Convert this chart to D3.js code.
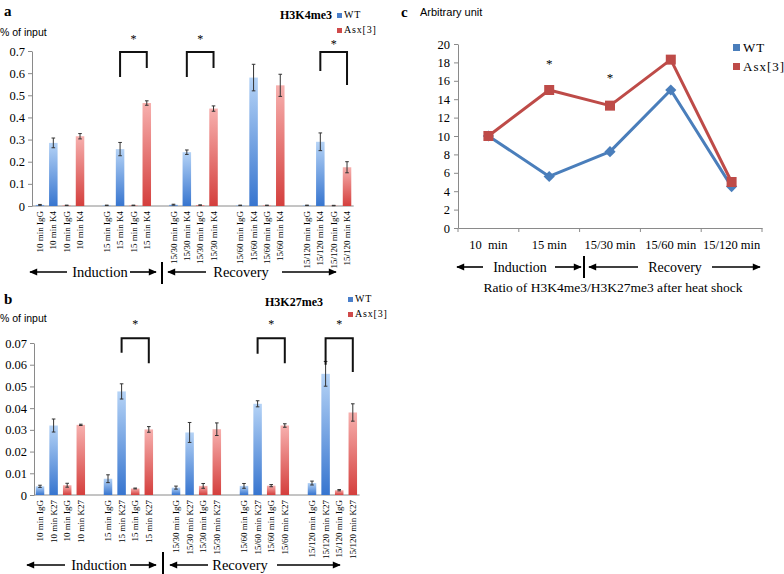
<!DOCTYPE html>
<html><head><meta charset="utf-8">
<script src="https://cdn.jsdelivr.net/npm/d3@7"></script>
<style>
body{margin:0;background:#fff}
text{font-family:"Liberation Serif","Times New Roman",serif;fill:#000}
.sans{font-family:"Liberation Sans",Arial,sans-serif}
</style></head>
<body><svg id="chart" width="784" height="574"></svg>
<script>
// ---------- shared categories ----------
const groups = ["10 min", "15 min", "15/30 min", "15/60 min", "15/120 min"];
const seriesNames = ["WT", "Asx[3]"];

// ---------- panel a : H3K4me3 (% of input) ----------
const aWtIgG      = [0.005, 0.003, 0.006, 0.003, 0.003];
const aWtIgGErr   = [0.002, 0.001, 0.002, 0.001, 0.001];
const aWtK4       = [0.285, 0.257, 0.243, 0.580, 0.290];
const aWtK4Err    = [0.022, 0.030, 0.010, 0.060, 0.040];
const aAsxIgG     = [0.003, 0.003, 0.004, 0.003, 0.002];
const aAsxIgGErr  = [0.001, 0.001, 0.001, 0.001, 0.001];
const aAsxK4      = [0.315, 0.465, 0.440, 0.545, 0.175];
const aAsxK4Err   = [0.012, 0.010, 0.012, 0.050, 0.025];
const aTicks      = [0, 0.1, 0.2, 0.3, 0.4, 0.5, 0.6, 0.7];
// significance brackets: group index, top, left leg end, right leg end, star level
const aBrackets = [
  {g: 1, top: 0.695, left: 0.583, right: 0.623, star: 0.758},
  {g: 2, top: 0.695, left: 0.583, right: 0.623, star: 0.758},
  {g: 4, top: 0.695, left: 0.610, right: 0.546, star: 0.736}
];

// ---------- panel b : H3K27me3 (% of input) ----------
const bWtIgG      = [0.0040, 0.0075, 0.0034, 0.0042, 0.0055];
const bWtIgGErr   = [0.0005, 0.0018, 0.0007, 0.0011, 0.0009];
const bWtK27      = [0.0320, 0.0477, 0.0288, 0.0420, 0.0558];
const bWtK27Err   = [0.0030, 0.0035, 0.0046, 0.0014, 0.0057];
const bAsxIgG     = [0.0045, 0.0030, 0.0042, 0.0043, 0.0022];
const bAsxIgGErr  = [0.0009, 0.0002, 0.0011, 0.0005, 0.0003];
const bAsxK27     = [0.0323, 0.0302, 0.0303, 0.0320, 0.0380];
const bAsxK27Err  = [0.0003, 0.0013, 0.0029, 0.0008, 0.0040];
const bTicks      = [0, 0.01, 0.02, 0.03, 0.04, 0.05, 0.06, 0.07];
const bBrackets = [
  {g: 1, top: 0.0722, left: 0.0655, right: 0.0607, star: 0.0790},
  {g: 3, top: 0.0722, left: 0.0650, right: 0.0607, star: 0.0790},
  {g: 4, top: 0.0722, left: 0.0600, right: 0.0567, star: 0.0790}
];

// ---------- panel c : ratio H3K4me3/H3K27me3 ----------
const cWT   = [10, 5.6, 8.3, 15, 4.5];
const cAsx  = [10, 15, 13.3, 18.3, 5];
const cTicks = [0, 2, 4, 6, 8, 10, 12, 14, 16, 18, 20];
const cStars = [{g: 1, v: 18.0}, {g: 2, v: 16.5}];
const cXLabels = ["10  min", "15 min", "15/30 min", "15/60 min", "15/120 min"];

const svg = d3.select("#chart");
const defs = svg.append("defs");
const SERIF = '"Liberation Serif","Times New Roman",serif';

function grad(id, top, bottom) {
  const g = defs.append("linearGradient").attr("id", id)
    .attr("x1", 0).attr("y1", 0).attr("x2", 0).attr("y2", 1);
  g.append("stop").attr("offset", "0%").attr("stop-color", top);
  g.append("stop").attr("offset", "100%").attr("stop-color", bottom);
}
grad("gBlue", "#b5d3f6", "#3775cf");
grad("gRed", "#f7b0ae", "#d43f3d");

defs.append("marker").attr("id", "ah").attr("viewBox", "0 0 10 10")
  .attr("refX", 9).attr("refY", 5).attr("markerWidth", 9).attr("markerHeight", 8)
  .attr("markerUnits", "userSpaceOnUse").attr("orient", "auto-start-reverse")
  .append("path").attr("d", "M0,0.5 L10,5 L0,9.5 Z").attr("fill", "#000");

function arrow(x1, x2, y) {
  svg.append("line").attr("x1", x1).attr("x2", x2).attr("y1", y).attr("y2", y)
    .attr("stroke", "#000").attr("stroke-width", 1.6).attr("marker-end", "url(#ah)");
}
function phaseRow(cfg) {
  arrow(cfg.ind[1], cfg.ind[0], cfg.y);
  svg.append("text").attr("x", cfg.indText).attr("y", cfg.y + 5).attr("text-anchor", "middle")
    .style("font-family", SERIF).style("font-size", cfg.fs + "px").text("Induction");
  arrow(cfg.ind2[0], cfg.ind2[1], cfg.y);
  svg.append("line").attr("x1", cfg.bar).attr("x2", cfg.bar).attr("y1", cfg.barY[0]).attr("y2", cfg.barY[1])
    .attr("stroke", "#000").attr("stroke-width", 2);
  arrow(cfg.rec[1], cfg.rec[0], cfg.y);
  svg.append("text").attr("x", cfg.recText).attr("y", cfg.y + 5).attr("text-anchor", "middle")
    .style("font-family", SERIF).style("font-size", cfg.fs + "px").text("Recovery");
  arrow(cfg.rec2[0], cfg.rec2[1], cfg.y);
}

function barPanel(cfg) {
  const slots = [];
  const bars = [];
  groups.forEach((g, gi) => {
    const row = [
      {name: g + " IgG", v: cfg.wtIgG[gi], e: cfg.wtIgGErr[gi], s: 0},
      {name: g + " " + cfg.mark, v: cfg.wtM[gi], e: cfg.wtMErr[gi], s: 0},
      {name: g + " IgG", v: cfg.asIgG[gi], e: cfg.asIgGErr[gi], s: 1},
      {name: g + " " + cfg.mark, v: cfg.asM[gi], e: cfg.asMErr[gi], s: 1}
    ];
    row.forEach((d, k) => {
      const key = gi + "-" + k;
      slots.push(key);
      bars.push(Object.assign({key, gi, k}, d));
    });
    if (gi < groups.length - 1) slots.push("gap" + gi);
  });
  const x = d3.scaleBand().domain(slots).range(cfg.xr);
  const y = d3.scaleLinear().domain([0, cfg.max]).range(cfg.yr);
  const g = svg.append("g");

  const ya = g.append("g").attr("transform", `translate(${cfg.axisX},0)`)
    .call(d3.axisLeft(y).tickValues(cfg.ticks).tickSize(4).tickSizeOuter(0)
      .tickFormat(d => d === 0 ? "0" : d3.format(cfg.fmt)(d)));
  ya.select(".domain").attr("stroke", "#8a8a8a");
  ya.selectAll(".tick line").attr("stroke", "#8a8a8a");
  ya.selectAll(".tick text").style("font-size", "12.5px").attr("x", -7)
    .style("font-family", SERIF);

  const xa = g.append("g").attr("transform", `translate(0,${cfg.yr[0]})`)
    .call(d3.axisBottom(x).tickValues(bars.map(b => b.key)).tickSize(0).tickSizeOuter(0)
      .tickFormat(k => bars.find(b => b.key === k).name));
  xa.select(".domain").attr("stroke", "#8a8a8a").attr("d", `M${cfg.axisX},0H${cfg.xr[1]}`);
  xa.selectAll(".tick text").attr("transform", "rotate(-90)").attr("text-anchor", "end")
    .attr("x", -5).attr("y", 0).attr("dy", "0.35em")
    .style("font-size", "9px").style("font-family", SERIF);

  const bw = 8.5;
  g.selectAll("rect.bar").data(bars).join("rect").attr("class", "bar")
    .attr("x", d => x(d.key) + x.bandwidth() / 2 - bw / 2)
    .attr("width", bw)
    .attr("y", d => y(d.v)).attr("height", d => y(0) - y(d.v))
    .attr("fill", d => d.s === 0 ? "url(#gBlue)" : "url(#gRed)");
  const eb = g.selectAll("g.err").data(bars).join("g").attr("class", "err")
    .attr("transform", d => `translate(${x(d.key) + x.bandwidth() / 2},0)`);
  eb.append("line").attr("y1", d => y(d.v - d.e)).attr("y2", d => y(d.v + d.e))
    .attr("stroke", "#333").attr("stroke-width", 1);
  eb.append("line").attr("x1", -1.8).attr("x2", 1.8).attr("y1", d => y(d.v + d.e)).attr("y2", d => y(d.v + d.e))
    .attr("stroke", "#333").attr("stroke-width", 1);
  eb.append("line").attr("x1", -1.8).attr("x2", 1.8).attr("y1", d => y(d.v - d.e)).attr("y2", d => y(d.v - d.e))
    .attr("stroke", "#333").attr("stroke-width", 1);

  cfg.brackets.forEach(b => {
    const xl = x(b.g + "-1") + x.bandwidth() / 2;
    const xr = x(b.g + "-3") + x.bandwidth() / 2;
    g.append("path").attr("d", `M${xl},${y(b.left)}V${y(b.top)}H${xr}V${y(b.right)}`)
      .attr("fill", "none").attr("stroke", "#111").attr("stroke-width", 2);
    g.append("text").attr("x", (xl + xr) / 2).attr("y", y(b.star) + 5)
      .attr("text-anchor", "middle").style("font-size", "12px").style("font-family", SERIF).text("*");
  });

  svg.append("text").attr("x", cfg.letter[0]).attr("y", cfg.letter[1]).style("font-family", SERIF)
    .style("font-size", "15px").style("font-weight", "bold").text(cfg.letterText);
  svg.append("text").attr("class", "sans").attr("x", 0).attr("y", cfg.unitY)
    .style("font-size", "10.5px").text("% of input");
  svg.append("text").attr("x", cfg.title[0]).attr("y", cfg.title[1]).style("font-family", SERIF)
    .style("font-size", "12px").style("font-weight", "bold").text(cfg.titleText);
  seriesNames.forEach((s, i) => {
    svg.append("rect").attr("x", cfg.leg[0]).attr("y", cfg.leg[1] + i * 15 - 5)
      .attr("width", 5).attr("height", 5).attr("fill", i === 0 ? "#4a7fcb" : "#cf4a4a");
    svg.append("text").attr("x", cfg.leg[0] + 7).attr("y", cfg.leg[1] + i * 15).style("font-family", SERIF)
      .style("font-size", "10px").style("letter-spacing", "0.8px").attr("fill", "#444").text(s);
  });
}

barPanel({
  wtIgG: aWtIgG, wtIgGErr: aWtIgGErr, wtM: aWtK4, wtMErr: aWtK4Err,
  asIgG: aAsxIgG, asIgGErr: aAsxIgGErr, asM: aAsxK4, asMErr: aAsxK4Err,
  mark: "K4", max: 0.7, ticks: aTicks, fmt: ".1f",
  xr: [33.3, 353.7], yr: [206, 51], axisX: 32,
  brackets: aBrackets, letter: [4, 16], letterText: "a", unitY: 36,
  title: [280, 19], titleText: "H3K4me3", leg: [337, 18]
});
barPanel({
  wtIgG: bWtIgG, wtIgGErr: bWtIgGErr, wtM: bWtK27, wtMErr: bWtK27Err,
  asIgG: bAsxIgG, asIgGErr: bAsxIgGErr, asM: bAsxK27, asMErr: bAsxK27Err,
  mark: "K27", max: 0.07, ticks: bTicks, fmt: ".2f",
  xr: [33.2, 359.6], yr: [495, 343], axisX: 34,
  brackets: bBrackets, letter: [4, 304], letterText: "b", unitY: 322,
  title: [265, 306], titleText: "H3K27me3", leg: [348, 302]
});

phaseRow({y: 272, fs: 14.5, ind: [30, 67], indText: 100, ind2: [130, 156], bar: 162, barY: [262, 284],
  rec: [168, 206], recText: 241, rec2: [282, 336]});
phaseRow({y: 565, fs: 14.5, ind: [27, 65], indText: 99, ind2: [130, 156], bar: 163, barY: [552, 574],
  rec: [170, 208], recText: 240, rec2: [277, 340]});

// ---------- panel c ----------
(function () {
  const x = d3.scaleBand().domain(groups).range([458, 762]);
  const y = d3.scaleLinear().domain([0, 20]).range([228, 44]);
  const g = svg.append("g");
  const ya = g.append("g").attr("transform", "translate(458,0)")
    .call(d3.axisLeft(y).tickValues(cTicks).tickSize(4).tickSizeOuter(0));
  ya.select(".domain").attr("stroke", "#8a8a8a");
  ya.selectAll(".tick line").attr("stroke", "#8a8a8a");
  ya.selectAll(".tick text").style("font-size", "12.5px").attr("x", -8)
    .style("font-family", SERIF);
  const xa = g.append("g").attr("transform", "translate(0,228)")
    .call(d3.axisBottom(x).tickSize(0).tickSizeOuter(0).tickFormat((d, i) => cXLabels[i]));
  xa.select(".domain").attr("stroke", "#8a8a8a");
  xa.selectAll(".tick text").attr("y", 12).style("font-size", "12.5px")
    .style("font-family", SERIF).style("white-space", "pre");
  const bounds = groups.map(d => x(d)).concat([x.range()[1]]);
  g.selectAll("line.bt").data(bounds).join("line").attr("class", "bt")
    .attr("x1", d => d).attr("x2", d => d).attr("y1", 228).attr("y2", 232).attr("stroke", "#8a8a8a");

  const cx = d => x(d) + x.bandwidth() / 2;
  const line = d3.line().x((v, i) => cx(groups[i])).y(v => y(v));
  g.append("path").datum(cWT).attr("d", line).attr("fill", "none")
    .attr("stroke", "#4a7ebb").attr("stroke-width", 3).attr("stroke-linejoin", "round");
  g.append("path").datum(cAsx).attr("d", line).attr("fill", "none")
    .attr("stroke", "#be4b48").attr("stroke-width", 3).attr("stroke-linejoin", "round");
  g.selectAll("path.dm").data(cWT).join("path").attr("class", "dm")
    .attr("d", d3.symbol(d3.symbolDiamond2, 80))
    .attr("transform", (v, i) => `translate(${cx(groups[i])},${y(v)})`).attr("fill", "#4a7ebb");
  g.selectAll("rect.sq").data(cAsx).join("rect").attr("class", "sq")
    .attr("x", (v, i) => cx(groups[i]) - 5).attr("y", v => y(v) - 5)
    .attr("width", 10).attr("height", 10).attr("fill", "#be4b48");
  cStars.forEach(s => {
    g.append("text").attr("x", cx(groups[s.g])).attr("y", y(s.v) + 6).attr("text-anchor", "middle")
      .style("font-family", SERIF).style("font-size", "13px").text("*");
  });
  seriesNames.forEach((s, i) => {
    svg.append("rect").attr("x", 733).attr("y", 44 + i * 19).attr("width", 7).attr("height", 7)
      .attr("fill", i === 0 ? "#4a7ebb" : "#be4b48");
    svg.append("text").attr("x", 743).attr("y", 52 + i * 19).style("font-family", SERIF).style("font-size", "13px")
      .style("letter-spacing", "1px").attr("fill", "#333").text(s);
  });
  svg.append("text").attr("x", 401).attr("y", 17).style("font-family", SERIF).style("font-size", "15px").style("font-weight", "bold").text("c");
  svg.append("text").attr("class", "sans").attr("x", 420).attr("y", 16).style("font-size", "11px").text("Arbitrary unit");
  phaseRow({y: 267, fs: 14, ind: [457, 483], indText: 520, ind2: [555, 581], bar: 584, barY: [256, 278],
    rec: [589, 638], recText: 675, rec2: [712, 760]});
  svg.append("text").attr("x", 613).attr("y", 292).attr("text-anchor", "middle").style("font-family", SERIF)
    .style("font-size", "13.5px").text("Ratio of H3K4me3/H3K27me3 after heat shock");
})();
</script></body></html>
